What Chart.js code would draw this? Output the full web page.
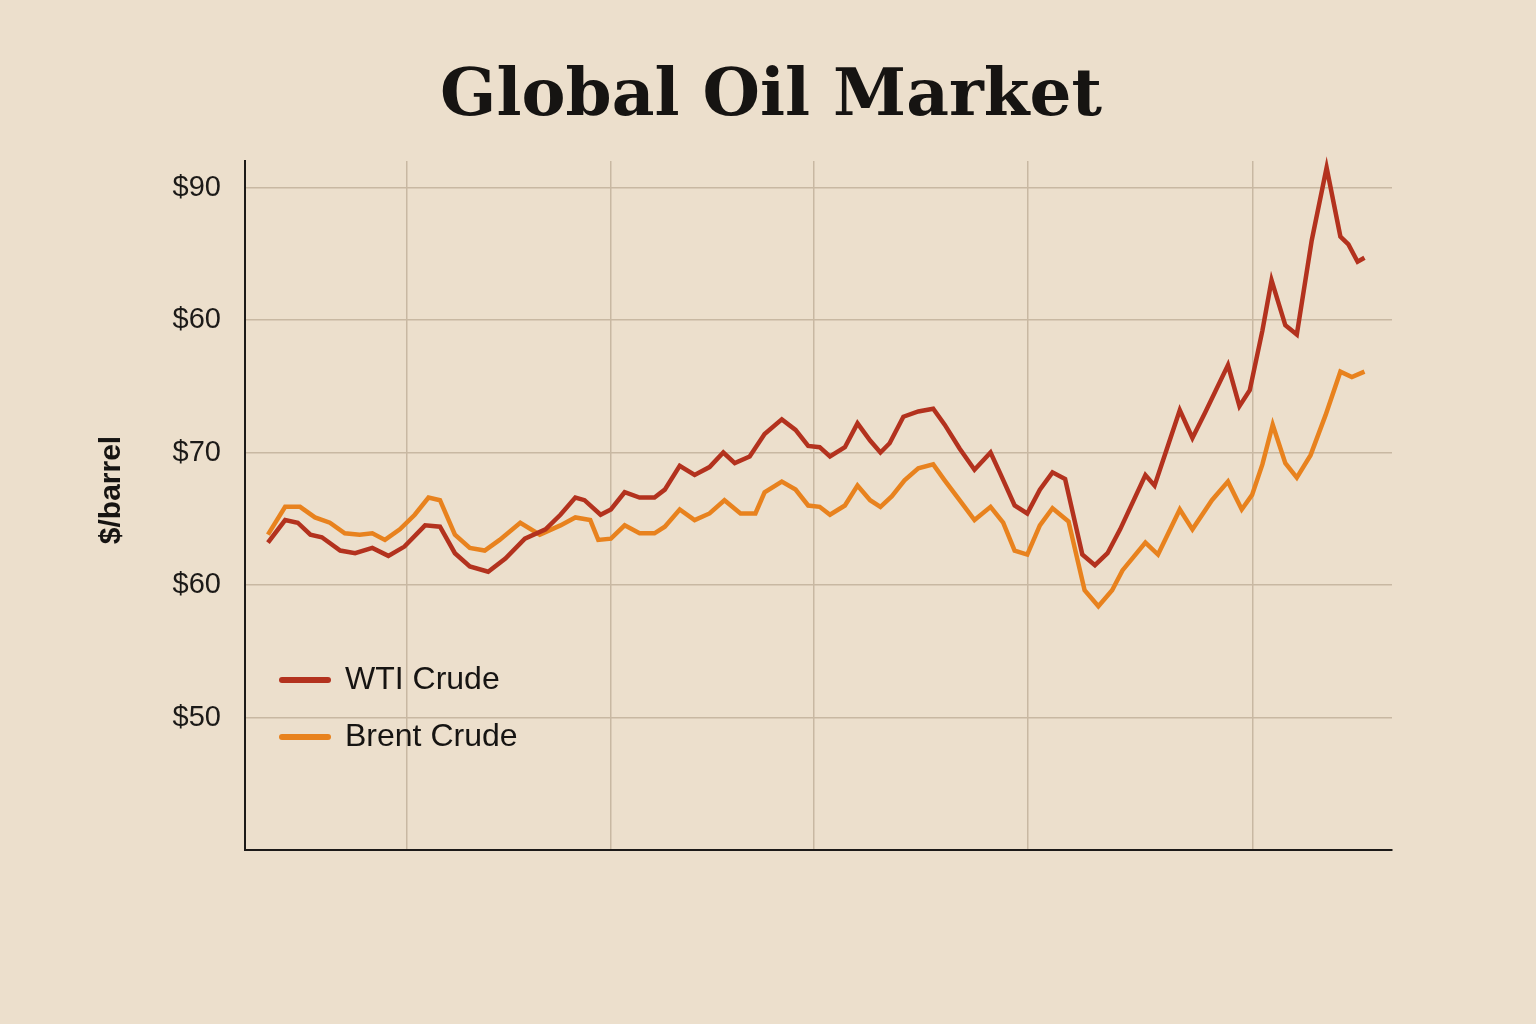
<!DOCTYPE html>
<html>
<head>
<meta charset="utf-8">
<script src="https://cdn.jsdelivr.net/npm/chart.js@4"></script>
<style>
  html, body { margin: 0; padding: 0; background: #ecdfcc; }
  #wrap { width: 1536px; height: 1024px; }
</style>
</head>
<body>
<div id="wrap"><canvas id="oil"></canvas></div>
<script>
// time axis in months, prices in $/barrel
const wtiMonths = [2.0,3.5,4.6,5.7,6.7,8.3,9.6,11.1,12.5,13.9,15.7,17.0,18.3,19.6,21.2,22.7,24.4,26.2,27.5,28.8,29.6,31.0,31.9,33.1,34.4,35.7,36.6,37.9,39.2,40.5,41.7,42.7,44.0,45.3,46.8,48.0,49.1,50.1,51.0,52.3,53.4,54.5,55.4,56.2,57.4,58.7,60.0,61.0,62.3,63.6,65.0,65.8,67.1,68.2,69.3,70.4,71.5,73.0,74.1,75.2,76.3,78.5,79.3,80.5,81.5,82.6,83.7,85.7,86.7,87.6,88.7,89.5,90.7,91.7,93.0,94.3,95.5,96.2,97.0,97.6];
const wtiPrices = [63.2,64.9,64.7,63.8,63.6,62.6,62.4,62.8,62.2,62.9,64.5,64.4,62.4,61.4,61.0,62.0,63.5,64.2,65.3,66.6,66.4,65.3,65.7,67.0,66.6,66.6,67.2,69.0,68.3,68.9,70.0,69.2,69.7,71.4,72.5,71.7,70.5,70.4,69.7,70.4,72.2,70.9,70.0,70.7,72.7,73.1,73.3,72.1,70.3,68.7,70.0,68.5,66.0,65.4,67.2,68.5,68.0,62.3,61.5,62.4,64.2,68.3,67.5,70.6,73.2,71.1,73.0,76.6,73.5,74.7,79.2,83.0,79.6,78.9,86.0,91.5,86.3,85.7,84.4,84.7];
const brentMonths = [2.0,3.5,4.8,6.1,7.4,8.7,10.0,11.1,12.2,13.5,14.8,16.0,17.0,18.3,19.6,20.9,22.2,24.0,25.7,27.5,28.8,30.1,30.8,31.9,33.1,34.4,35.7,36.6,37.9,39.2,40.5,41.8,43.2,44.5,45.3,46.8,48.0,49.1,50.1,51.0,52.3,53.4,54.5,55.4,56.4,57.5,58.7,60.0,61.0,62.3,63.6,65.0,66.1,67.1,68.2,69.3,70.4,71.8,73.2,74.4,75.6,76.5,78.5,79.6,81.5,82.6,84.3,85.7,86.9,87.8,88.7,89.6,90.7,91.7,92.9,94.2,95.5,96.5,97.6];
const brentPrices = [63.8,65.9,65.9,65.1,64.7,63.9,63.8,63.9,63.4,64.2,65.3,66.6,66.4,63.8,62.8,62.6,63.4,64.7,63.8,64.5,65.1,64.9,63.4,63.5,64.5,63.9,63.9,64.4,65.7,64.9,65.4,66.4,65.4,65.4,67.0,67.8,67.2,66.0,65.9,65.3,66.0,67.5,66.4,65.9,66.7,67.9,68.8,69.1,67.9,66.4,64.9,65.9,64.7,62.6,62.3,64.5,65.8,64.8,59.6,58.4,59.6,61.1,63.2,62.3,65.7,64.2,66.4,67.8,65.7,66.8,69.1,72.1,69.2,68.1,69.8,72.8,76.1,75.7,76.1];
const gridMonths = [14.1, 31.9, 49.6, 68.2, 87.9];
const yTickValues = [50, 60, 70, 80, 90];
const yTickLabels = ['$50', '$60', '$70', '$60', '$90'];
const seriesNames = ['WTI Crude', 'Brent Crude'];
const seriesColors = ['#b3321e', '#e8821e'];

const pts = (xs, ys) => xs.map((x, i) => ({ x: x, y: ys[i] }));

const extras = {
  id: 'extras',
  afterDraw(chart) {
    const c = chart.ctx;
    c.save();
    c.fillStyle = '#161412';
    c.font = 'bold 66px "DejaVu Serif", serif';
    c.textAlign = 'center';
    c.textBaseline = 'middle';
    c.fillText('Global Oil Market', 771, 98);

    c.save();
    c.translate(112, 490);
    c.rotate(-Math.PI / 2);
    c.font = 'bold 30px "Liberation Sans", Arial, sans-serif';
    c.fillText('$/barrel', 0, 0);
    c.restore();

    c.textAlign = 'left';
    c.font = '32px "Liberation Sans", Arial, sans-serif';
    seriesNames.forEach((name, i) => {
      const y = 680 + i * 57;
      c.strokeStyle = seriesColors[i];
      c.lineWidth = 6;
      c.lineCap = 'round';
      c.beginPath();
      c.moveTo(282, y);
      c.lineTo(328, y);
      c.stroke();
      c.fillText(name, 345, y);
    });
    c.restore();
  }
};

new Chart(document.getElementById('oil'), {
  type: 'line',
  data: {
    datasets: [
      { label: seriesNames[0], data: pts(wtiMonths, wtiPrices), borderColor: seriesColors[0], borderWidth: 4.5, pointRadius: 0, tension: 0, clip: false },
      { label: seriesNames[1], data: pts(brentMonths, brentPrices), borderColor: seriesColors[1], borderWidth: 4.5, pointRadius: 0, tension: 0, clip: false }
    ]
  },
  options: {
    responsive: true,
    maintainAspectRatio: false,
    animation: false,
    layout: { padding: { top: 161, right: 144, bottom: 174, left: 0 } },
    plugins: { legend: { display: false }, tooltip: { enabled: false } },
    scales: {
      x: {
        type: 'linear', min: 0, max: 100,
        afterBuildTicks: s => { s.ticks = gridMonths.map(v => ({ value: v })); },
        afterFit: s => { s.height = 0; },
        ticks: { display: false },
        grid: { color: '#c8b8a2', lineWidth: 1.5, drawTicks: false },
        border: { color: '#1c1a18', width: 2 }
      },
      y: {
        min: 40, max: 92,
        afterBuildTicks: s => { s.ticks = yTickValues.map(v => ({ value: v })); },
        afterFit: s => { s.width = 245; },
        ticks: {
          padding: 24,
          color: '#1c1a18',
          font: { size: 29, family: '"Liberation Sans", Arial, sans-serif' },
          callback: v => yTickLabels[yTickValues.indexOf(v)]
        },
        grid: { color: '#c8b8a2', lineWidth: 1.5, drawTicks: false },
        border: { color: '#1c1a18', width: 2 }
      }
    }
  },
  plugins: [extras]
});
</script>
</body>
</html>
